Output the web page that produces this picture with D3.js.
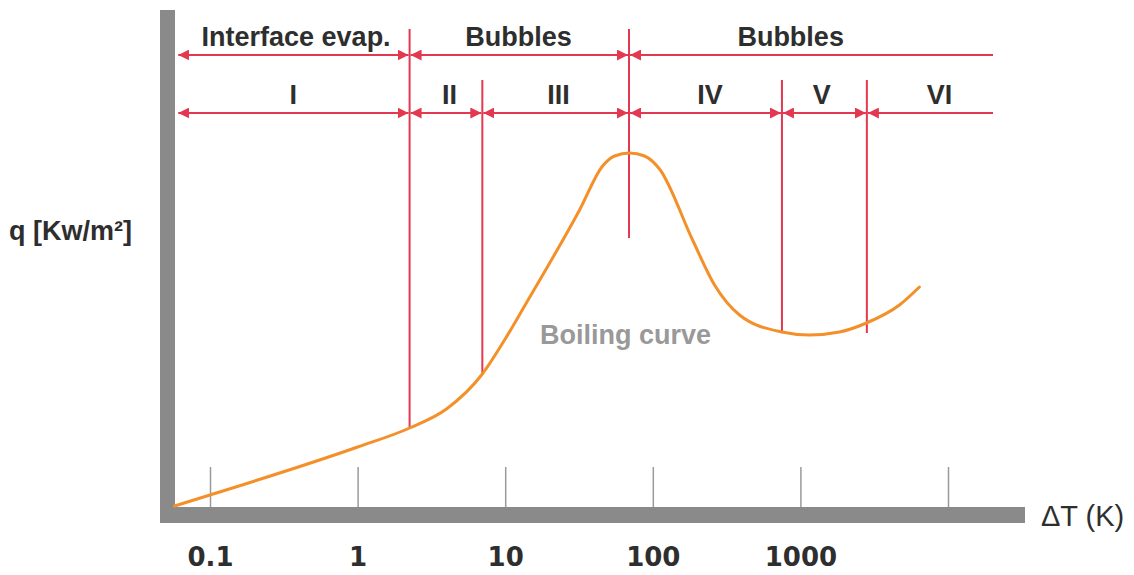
<!DOCTYPE html>
<html>
  <head>
    <meta charset="utf-8">
    <title>Boiling curve</title>
    <script src="https://cdn.jsdelivr.net/npm/d3@7"></script>
  </head>

  <style>
    body {
      margin: 0;
      background: #ffffff;
    }
    text {
      font-family: "Liberation Sans", Arial, sans-serif;
      font-weight: bold;
      fill: #2e2e2e;
    }
  </style>

  <body>
    <script>

      // boiling curve (T in K, q in arbitrary units)
      var curveT = [0.0575, 0.1, 1, 2.25, 4.0, 7.0, 9.9, 13.9, 31.9, 45.7, 55.1, 69.6, 88, 111, 186, 262, 387, 748, 1150, 1840, 2800, 4690, 6400];
      var curveQ = [0, 2.2, 11.8, 15.6, 19.4, 26.4, 33.2, 40.6, 59.2, 68.0, 70.0, 70.6, 70.0, 67.4, 53.2, 44.2, 38.2, 34.8, 34.2, 34.8, 36.6, 40.2, 43.8];

      // x axis ticks
      var tickValues = [0.1, 1, 10, 100, 1000, 10000];
      var tickLabels = ["0.1", "1", "10", "100", "1000", ""];

      // regime boundaries (vertical red lines)
      var boundaryT = [2.25, 7.0, 69, 750, 2820];
      var boundaryTop = [95.4, 85.2, 95.4, 85.2, 85.2];
      var boundaryBottom = [15.6, 26.4, 53.6, 34.8, 34.6];

      // top row of arrows
      var row1Start = [0.06, 2.25, 69];
      var row1End = [2.25, 69, 20200];
      var row1Labels = ["Interface evap.", "Bubbles", "Bubbles"];
      var row1LabelT = [0.383, 12.3, 859];

      // second row of arrows
      var row2Start = [0.06, 2.25, 7.0, 69, 750, 2820];
      var row2End = [2.25, 7.0, 69, 750, 2820, 20200];
      var row2Labels = ["I", "II", "III", "IV", "V", "VI"];
      var row2LabelT = [0.366, 4.2, 23, 244, 1393, 8770];

      var width = 1134,
        height = 575;

      var red = "#e3384f",
        orange = "#f39029",
        grey = "#8a8a8a";

      var svg = d3.select("body")
        .append("svg")
        .attr("width", width)
        .attr("height", height);

      var x = d3.scaleLog()
        .domain([0.1, 10000])
        .range([210, 948]);

      var y = d3.scaleLinear()
        .domain([0, 100])
        .range([506, 6]);

      // arrowheads
      var defs = svg.append("defs");
      defs.append("marker")
        .attr("id", "head")
        .attr("markerUnits", "userSpaceOnUse")
        .attr("viewBox", "0 0 10 10")
        .attr("refX", 10)
        .attr("refY", 5)
        .attr("markerWidth", 11)
        .attr("markerHeight", 11)
        .attr("orient", "auto-start-reverse")
        .append("path")
        .attr("d", "M0,0L10,5L0,10Z")
        .attr("fill", red);

      // tick marks above the axis bar
      var tickAxis = d3.axisTop(x)
        .tickValues(tickValues)
        .tickSize(40)
        .tickFormat("");

      svg.append("g")
        .attr("transform", "translate(0,507)")
        .call(tickAxis)
        .call(g => g.select(".domain").remove())
        .call(g => g.selectAll(".tick line").attr("stroke", "#9a9a9a").attr("stroke-width", 1.5));

      // tick labels under the bar
      var labelAxis = d3.axisBottom(x)
        .tickValues(tickValues)
        .tickSize(0)
        .tickPadding(0)
        .tickFormat((d, i) => tickLabels[i]);

      svg.append("g")
        .attr("transform", "translate(0,566)")
        .call(labelAxis)
        .call(g => g.select(".domain").remove())
        .call(g => g.selectAll("text")
          .attr("dy", 0)
          .attr("y", 0)
          .attr("fill", "#2e2e2e")
          .style("font-family", "'DejaVu Sans', Verdana, sans-serif")
          .style("font-weight", "bold")
          .style("font-size", "26px"));

      // thick grey axes
      svg.append("rect")
        .attr("x", 160).attr("y", 10)
        .attr("width", 15).attr("height", 513)
        .attr("fill", grey);

      svg.append("rect")
        .attr("x", 160).attr("y", 507)
        .attr("width", 865).attr("height", 16)
        .attr("fill", grey);

      // axis titles
      svg.append("text")
        .attr("x", 9)
        .attr("y", 240)
        .style("font-size", "27px")
        .text("q [Kw/m²]");

      svg.append("text")
        .attr("x", 1041)
        .attr("y", 526)
        .style("font-size", "29px")
        .style("font-weight", "normal")
        .text("ΔT (K)");

      // vertical boundary lines
      svg.selectAll(".boundary")
        .data(boundaryT)
        .enter()
        .append("line")
        .attr("class", "boundary")
        .attr("x1", d => x(d))
        .attr("x2", d => x(d))
        .attr("y1", (d, i) => y(boundaryTop[i]))
        .attr("y2", (d, i) => y(boundaryBottom[i]))
        .attr("stroke", red)
        .attr("stroke-width", 2);

      // arrow rows
      function arrowRow(starts, ends, labels, labelT, rowQ) {
        var g = svg.append("g");
        var ry = Math.round(y(rowQ));
        starts.forEach((s, i) => {
          var last = (i === starts.length - 1);
          g.append("line")
            .attr("x1", x(s) + 1)
            .attr("x2", x(ends[i]) - (last ? 0 : 1))
            .attr("y1", ry)
            .attr("y2", ry)
            .attr("stroke", red)
            .attr("stroke-width", 2)
            .attr("marker-start", "url(#head)")
            .attr("marker-end", last ? null : "url(#head)");
          g.append("text")
            .attr("x", x(labelT[i]))
            .attr("y", ry - 9)
            .attr("text-anchor", "middle")
            .style("font-size", "27px")
            .text(labels[i]);
        });
      }

      arrowRow(row1Start, row1End, row1Labels, row1LabelT, 90.2);
      arrowRow(row2Start, row2End, row2Labels, row2LabelT, 78.6);

      // boiling curve
      var line = d3.line()
        .x((d, i) => x(curveT[i]))
        .y(d => y(d))
        .curve(d3.curveMonotoneX);

      svg.append("path")
        .datum(curveQ)
        .attr("d", line)
        .attr("fill", "none")
        .attr("stroke", orange)
        .attr("stroke-width", 3)
        .attr("stroke-linecap", "round");

      svg.append("text")
        .attr("x", 540)
        .attr("y", 344)
        .style("fill", "#999999")
        .style("font-size", "27px")
        .text("Boiling curve");

    </script>
  </body>
</html>
